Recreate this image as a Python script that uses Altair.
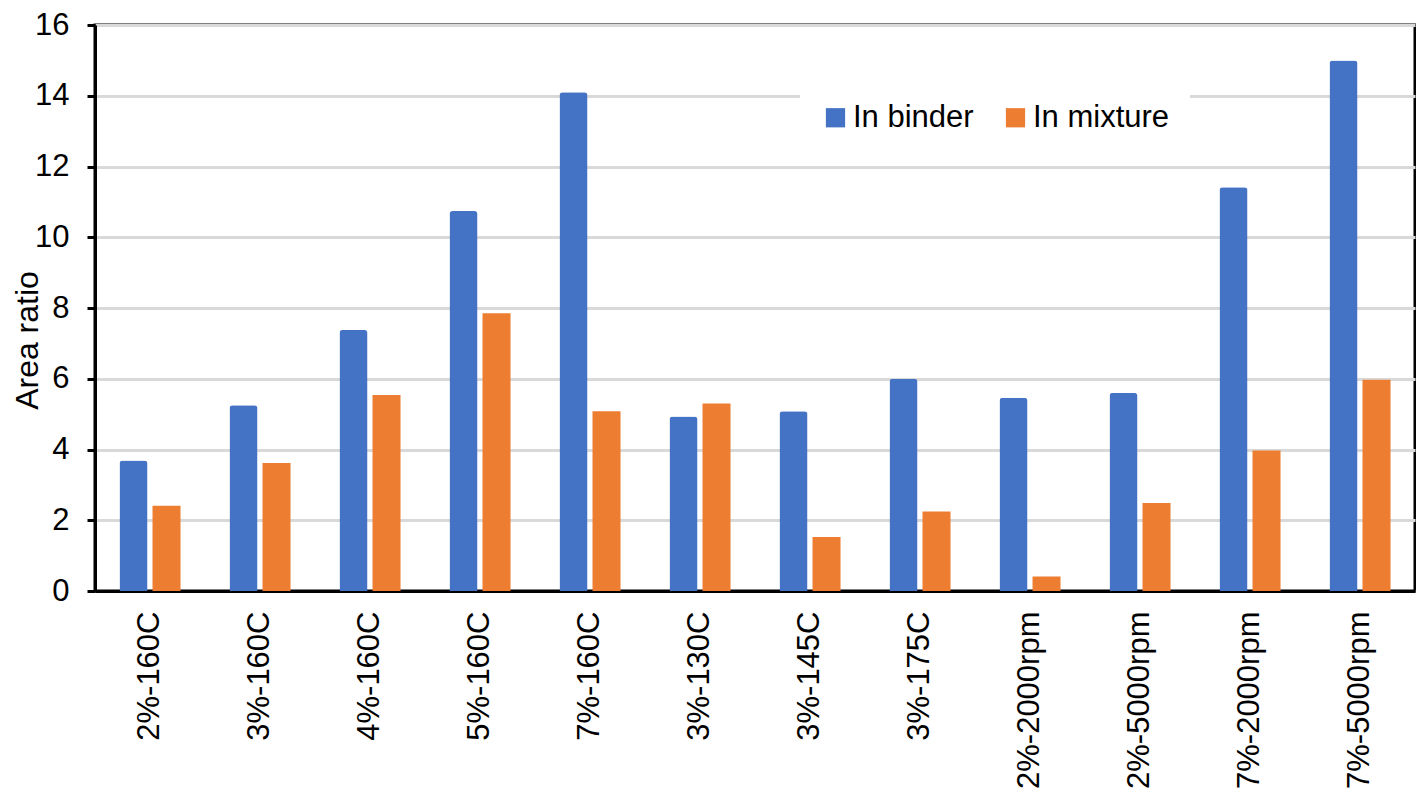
import altair as alt
import pandas as pd

categories = ["2%-160C", "3%-160C", "4%-160C", "5%-160C", "7%-160C", "3%-130C",
              "3%-145C", "3%-175C", "2%-2000rpm", "2%-5000rpm", "7%-2000rpm", "7%-5000rpm"]
in_binder = [3.69, 5.25, 7.38, 10.74, 14.10, 4.93, 5.08, 6.00, 5.46, 5.60, 11.41, 15.00]
in_mixture = [2.41, 3.62, 5.54, 7.85, 5.08, 5.30, 1.53, 2.25, 0.41, 2.49, 3.97, 5.97]
series = ["In binder", "In mixture"]
colors = ["#4472C4", "#ED7D31"]
y_ticks = [0, 2, 4, 6, 8, 10, 12, 14, 16]

rows = []
for c, b, m in zip(categories, in_binder, in_mixture):
    rows.append({"cat": c, "series": series[0], "value": b})
    rows.append({"cat": c, "series": series[1], "value": m})
df = pd.DataFrame(rows)

FONT = "Liberation Sans"

x_enc = alt.X(
    "cat:N", sort=categories,
    scale=alt.Scale(paddingInner=0.445, paddingOuter=0.2225),
    axis=alt.Axis(title=None, ticks=False, labelAngle=270, labelAlign="right",
                  labelBaseline="middle", labelFontSize=31, labelPadding=20,
                  labelColor="black", domainColor="black", domainWidth=3,
                  grid=False, labelFont=FONT),
)
xo_enc = alt.XOffset("series:N", scale=alt.Scale(domain=series, paddingInner=0.152, paddingOuter=0))
y_enc = alt.Y(
    "value:Q",
    scale=alt.Scale(domain=[0, 16], nice=False),
    axis=alt.Axis(values=y_ticks, tickSize=8, tickWidth=3, tickColor="black",
                  domainColor="black", domainWidth=3, gridColor="#D9D9D9", gridWidth=3,
                  labelFontSize=31, labelPadding=18, labelColor="black", labelFont=FONT,
                  title="Area ratio", titleFontSize=32, titleFontWeight="normal",
                  titleColor="black", titleFont=FONT, titleAngle=270,
                  titleX=-68, titleY=315, titleAlign="center", titleBaseline="middle"),
)
color_enc = alt.Color(
    "series:N",
    scale=alt.Scale(domain=series, range=colors),
    legend=alt.Legend(orient="none", legendX=705, legendY=57, direction="horizontal",
                      title=None, labelFontSize=31, labelFont=FONT, labelColor="black",
                      symbolType="square", symbolSize=370, symbolStrokeWidth=0,
                      fillColor="white", padding=20, columnPadding=26, labelOffset=2),
)

base = alt.Chart(df)
blue = base.transform_filter(alt.datum.series == series[0]).mark_bar(
    cornerRadiusTopLeft=3, cornerRadiusTopRight=3
).encode(x=x_enc, xOffset=xo_enc, y=y_enc, color=color_enc)
orange = base.transform_filter(alt.datum.series == series[1]).mark_bar().encode(
    x=x_enc, xOffset=xo_enc, y=y_enc, color=color_enc)

chart = alt.layer(blue, orange).properties(
    width=1320, height=566,
    padding={"left": 87, "top": 17, "right": 1, "bottom": 197},
    autosize="none",
).configure(font=FONT).configure_view(stroke="black", strokeWidth=3)

chart.save("out.html", embed_options={"renderer": "svg", "actions": False})
